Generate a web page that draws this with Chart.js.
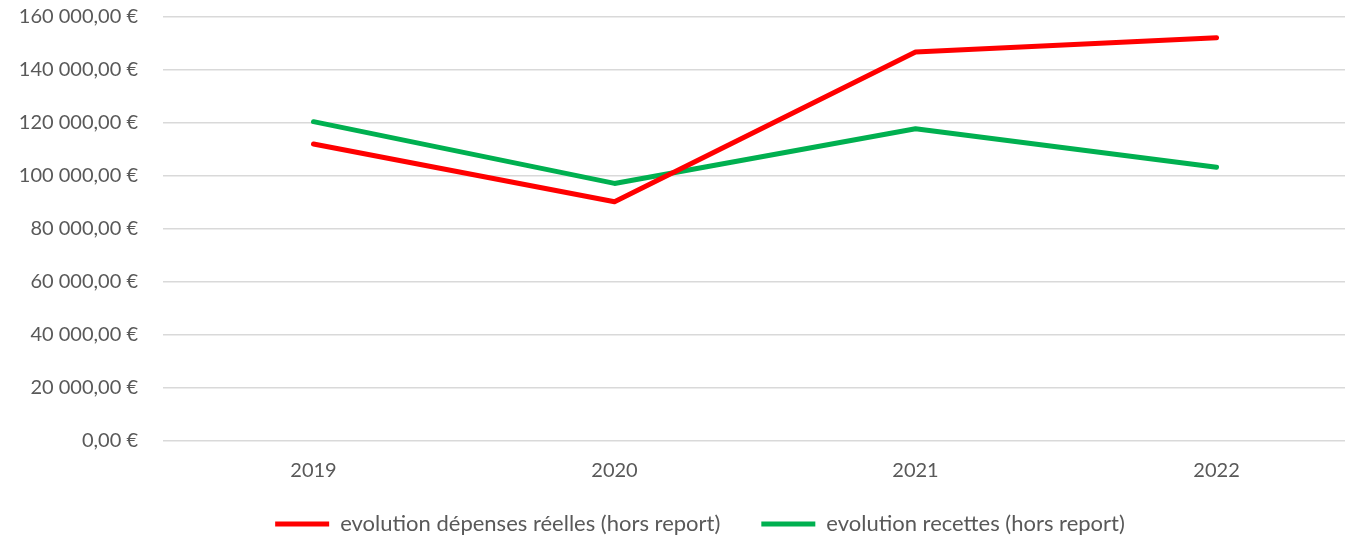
<!DOCTYPE html>
<html>
<head>
<meta charset="utf-8">
<script src="https://cdn.jsdelivr.net/npm/chart.js@4/dist/chart.umd.min.js"></script>
<style>
  html, body { margin: 0; background: #fff; overflow: hidden; }
  #wrapper { width: 1386px; height: 545px; }
</style>
</head>
<body>
<div id="wrapper"><canvas id="graf"></canvas></div>
<script>
"use strict";
// donnees
const annees = ["2019", "2020", "2021", "2022"];
const depenses = [112100, 90300, 146800, 152200];
const recettes = [120500, 97200, 117800, 103300];
const yTicks = [0, 20000, 40000, 60000, 80000, 100000, 120000, 140000, 160000];

function euro(v) {
    let parts = v.toFixed(2).split(".");
    let ent = parts[0].replace(/\B(?=(\d{3})+(?!\d))/g, " ");
    return ent + "," + parts[1] + " €";
}

function punti(valori) {
    return annees.map((a, i) => ({ x: Number(a), y: valori[i] }));
}

window.onload = function () {
    const police = "Lato, 'Open Sans', sans-serif";
    const gris = "#595959";
    let ctx = document.getElementById("graf");
    new Chart(ctx, {
        type: "line",
        data: {
            datasets: [
                {
                    label: "evolution dépenses réelles (hors report)\u2003\u2003",
                    data: punti(depenses),
                    borderColor: "#ff0000",
                    backgroundColor: "#ff0000",
                    borderWidth: 5,
                    borderCapStyle: "round",
                    borderJoinStyle: "round",
                    pointRadius: 0,
                    tension: 0
                },
                {
                    label: "evolution recettes (hors report)",
                    data: punti(recettes),
                    borderColor: "#00b050",
                    backgroundColor: "#00b050",
                    borderWidth: 5,
                    borderCapStyle: "round",
                    borderJoinStyle: "round",
                    pointRadius: 0,
                    tension: 0
                }
            ]
        },
        options: {
            responsive: true,
            maintainAspectRatio: false,
            animation: false,
            layout: { padding: { top: 17, left: 14, right: 0, bottom: 0 } },
            scales: {
                x: {
                    type: "linear",
                    min: 2018.5,
                    max: 2022.563,
                    grid: { display: false, drawTicks: false },
                    border: { display: false },
                    afterFit: s => { s.height += 4; },
                    ticks: {
                        stepSize: 1,
                        includeBounds: false,
                        padding: 18,
                        color: gris,
                        font: { family: police, size: 20 },
                        callback: v => String(v)
                    }
                },
                y: {
                    min: 0,
                    max: 160000,
                    afterBuildTicks: axis => { axis.ticks = yTicks.map(v => ({ value: v })); },
                    afterFit: s => { s.width = 149; },
                    grid: {
                        color: "#d9d9d9",
                        lineWidth: 1.5,
                        drawTicks: true,
                        tickLength: 25,
                        tickColor: "rgba(0,0,0,0)"
                    },
                    border: { display: false },
                    ticks: {
                        padding: 0,
                        color: gris,
                        font: { family: police, size: 20 },
                        callback: v => euro(v)
                    }
                }
            },
            plugins: {
                tooltip: { enabled: false },
                legend: {
                    position: "bottom",
                    labels: {
                        usePointStyle: true,
                        pointStyle: "line",
                        pointStyleWidth: 54,
                        boxHeight: 5,
                        padding: 8,
                        color: gris,
                        font: { family: police, size: 22 }
                    }
                }
            }
        }
    });
};
</script>
</body>
</html>
